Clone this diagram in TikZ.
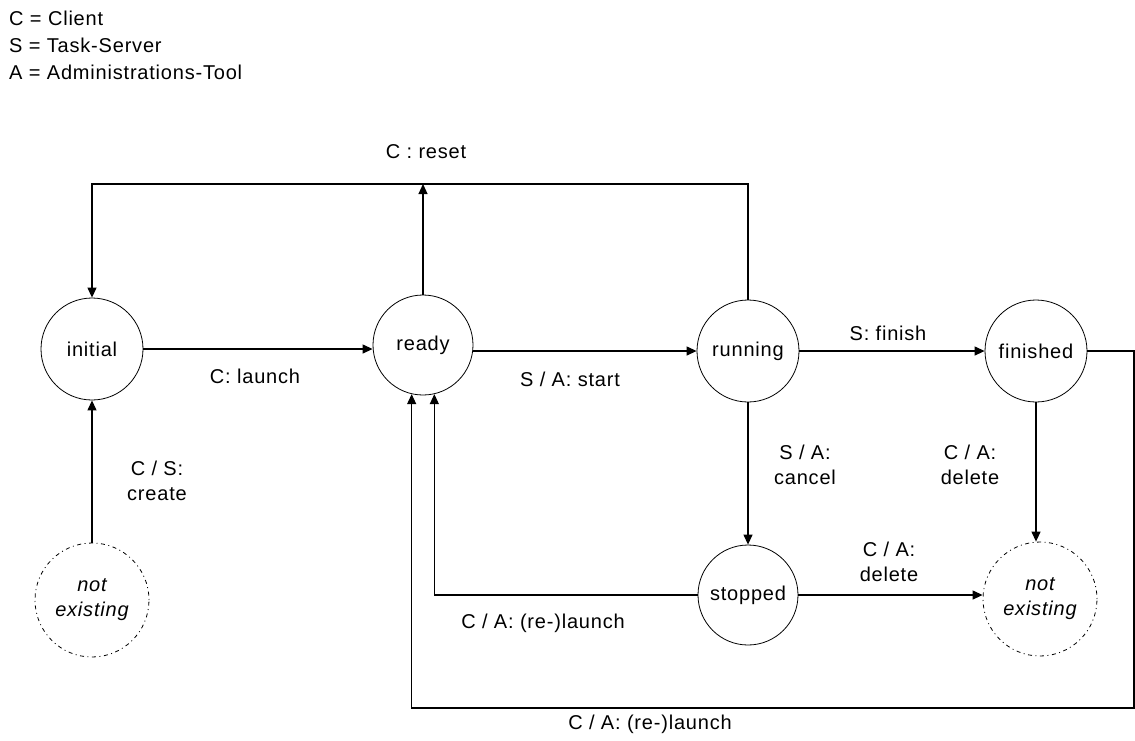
\documentclass[tikz,border=0pt]{standalone}
\usepackage{fontspec}
\setmainfont{Liberation Sans}[LetterSpace=4]
\usetikzlibrary{arrows.meta}
\begin{document}
\begin{tikzpicture}[x=1pt,y=-1pt,
  every node/.style={font=\fontsize{20}{24.5}\selectfont},
  st/.style={circle,draw,line width=0.8pt,minimum size=#1,inner sep=0pt},
  ne/.style={circle,draw,line width=0.8pt,dash pattern=on 1pt off 3.5pt on 4pt off 3.5pt,
     minimum size=114pt,inner sep=0pt,align=center,font=\fontsize{20}{25}\selectfont\itshape},
  conn/.style={line width=1.2pt},
  arr/.style={conn,-{Triangle[length=10pt,width=9pt]}},
  lbl/.style={align=center,inner sep=0pt},
  leg/.style={anchor=west,inner sep=0pt}]
\useasboundingbox (0,0) rectangle (1135,740);

% legend
\node[leg] (leg1) at (9,18) {C = Client};
\node[leg] (leg2) at (9,45) {S = Task-Server};
\node[leg] (leg3) at (9,72) {A = Administrations-Tool};

% states
\node[st=102pt] (initial)  at (92,349)   {initial};
\node[st=100pt] (ready)    at (423,345)  {ready};
\node[st=102pt] (running)  at (748,351)  {running};
\node[st=102pt] (finished) at (1036,351) {finished};
\node[st=100pt] (stopped)  at (748,595)  {stopped};
\node[ne] (ne1) at (92,600)   {not\\existing};
\node[ne] (ne2) at (1040,599) {not\\existing};

% helper coordinates
\coordinate (topy) at (0,184);
\coordinate (rx)   at (1134,0);
\coordinate (by)   at (0,708);

% connectors
\draw[arr] (initial.east) -- (initial.east -| ready.west);
\draw[arr] (running.west -| ready.east) -- (running.west);
\draw[arr] (running.east) -- (finished.west);
\draw[arr] (running.north) -- (running.north |- topy) -- (initial.north |- topy) -- (initial.north);
\draw[arr] (ready.north) -- (ready.north |- topy);
\draw[arr] (running.south) -- (stopped.north);
\draw[arr] (finished.south) -- (finished.south |- ne2.north);
\draw[arr] (stopped.east) -- (stopped.east -| ne2.west);
\draw[arr] (ne1.north) -- (initial.south);
\draw[arr] (stopped.west) -- (stopped.west -| ready.283) -- (ready.283);
\draw[arr] (finished.east) -- (finished.east -| rx) -- (rx |- by) -- (by -| ready.257) -- (ready.257);

% labels
\node[lbl] (lreset)  at (426,152) {C : reset};
\node[lbl] (llaunch) at (255,376) {C: launch};
\node[lbl] (lstart)  at (570,379) {S / A: start};
\node[lbl] (lfinish) at (888,333) {S: finish};
\node[lbl] (lcreate) at (157,481) {C / S:\\create};
\node[lbl] (lcancel) at (805,465) {S / A:\\cancel};
\node[lbl] (ldel1)   at (970,465) {C / A:\\delete};
\node[lbl] (ldel2)   at (889,562) {C / A:\\delete};
\node[lbl] (lrel1)   at (543,623) {C / A: (re-)launch};
\node[lbl] (lrel2)   at (650,724) {C / A: (re-)launch};
\end{tikzpicture}
\end{document}
